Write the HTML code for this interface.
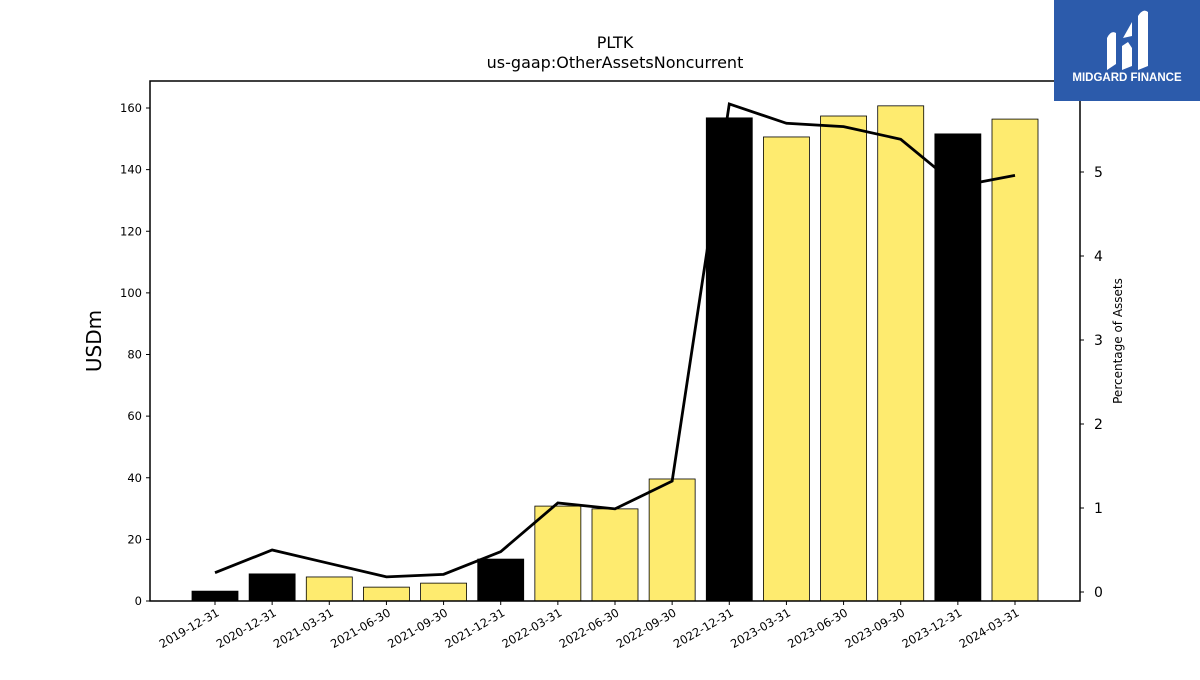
<!DOCTYPE html>
<html><head><meta charset="utf-8"><style>
body{margin:0;background:#fff;width:1200px;height:675px;overflow:hidden;font-family:"Liberation Sans","DejaVu Sans",sans-serif}
</style></head><body>
<svg id="chart" width="1200" height="675" xmlns="http://www.w3.org/2000/svg" font-family="DejaVu Sans, Liberation Sans, sans-serif">
<text x="615" y="48" text-anchor="middle" font-size="16">PLTK</text>
<text x="615" y="68" text-anchor="middle" font-size="16">us-gaap:OtherAssetsNoncurrent</text>
<g id="plot"></g>
<text transform="translate(101,341) rotate(-90)" text-anchor="middle" font-size="20">USDm</text>
<text transform="translate(1122,341) rotate(-90)" text-anchor="middle" font-size="12">Percentage of Assets</text>
<g>
<rect x="1054" y="0" width="146" height="101" fill="#2c5bab"/>
<path d="M1107 70 V38 Q1111 30 1116 33 V64 Z M1122 70 V46 L1128 42 L1132 48 V66 Z M1123 38 L1132 22 V36 Z M1138 70 V16 Q1143 8 1148 12 V66 Z" fill="#fff"/>
<text x="1127" y="81" text-anchor="middle" font-size="11.5" font-weight="bold" fill="#fff" font-family="Liberation Sans, sans-serif">MIDGARD FINANCE</text>
</g>
</svg>
<script>
const categories=["2019-12-31","2020-12-31","2021-03-31","2021-06-30","2021-09-30","2021-12-31","2022-03-31","2022-06-30","2022-09-30","2022-12-31","2023-03-31","2023-06-30","2023-09-30","2023-12-31","2024-03-31"];
const values=[3.2,8.8,7.8,4.5,5.8,13.6,30.8,29.9,39.6,156.8,150.6,157.4,160.7,151.6,156.4];
const pctValues=[0.23,0.5,0.34,0.18,0.21,0.48,1.06,0.99,1.32,5.81,5.58,5.54,5.39,4.83,4.96];
const yTicks=[0,20,40,60,80,100,120,140,160];
const y2Ticks=[0,1,2,3,4,5];
const NS="http://www.w3.org/2000/svg";
const L=150,R=1080,T=81,B=601;
const xPos=i=>215+i*((1015-215)/(categories.length-1));
const yL=v=>601-v*(493/160);
const yR=v=>592-v*84;
const g=document.getElementById('plot');
function mk(t,a){const e=document.createElementNS(NS,t);for(const k in a)e.setAttribute(k,a[k]);g.appendChild(e);return e;}
categories.forEach((c,i)=>{
 const year=c.endsWith('12-31');
 const r=mk('rect',{x:xPos(i)-23,y:yL(values[i]),width:46,height:yL(0)-yL(values[i]),fill:year?'#000':'#feeb6f',stroke:'#000','stroke-width':0.8});
 
 
 const t=mk('line',{x1:xPos(i),x2:xPos(i),y1:B,y2:B+4,stroke:'#000'});
 
 
 const lb=mk('text',{transform:`translate(${xPos(i)+5},${B+14}) rotate(-30)`,'text-anchor':'end','font-size':11.5});
 lb.textContent=c;
 
 
});
const pl=mk('polyline',{points:pctValues.map((v,i)=>xPos(i)+','+yR(v)).join(' '),fill:'none',stroke:'#000','stroke-width':2.8});


yTicks.forEach(v=>{
 const t=mk('line',{x1:L-4,x2:L,y1:yL(v),y2:yL(v),stroke:'#000'});
 
 
 const lb=mk('text',{x:L-8,y:yL(v)+4,'text-anchor':'end','font-size':11.5});
 lb.textContent=v;
 
 
});
y2Ticks.forEach(v=>{
 const t=mk('line',{x1:R,x2:R+4,y1:yR(v),y2:yR(v),stroke:'#000'});
 
 
 const lb=mk('text',{x:R+14,y:yR(v)+5,'font-size':14});
 lb.textContent=v;
 
 
});
const fr=mk('rect',{x:L,y:T,width:R-L,height:B-T,fill:'none',stroke:'#000','stroke-width':1.5});


</script>
</body></html>
